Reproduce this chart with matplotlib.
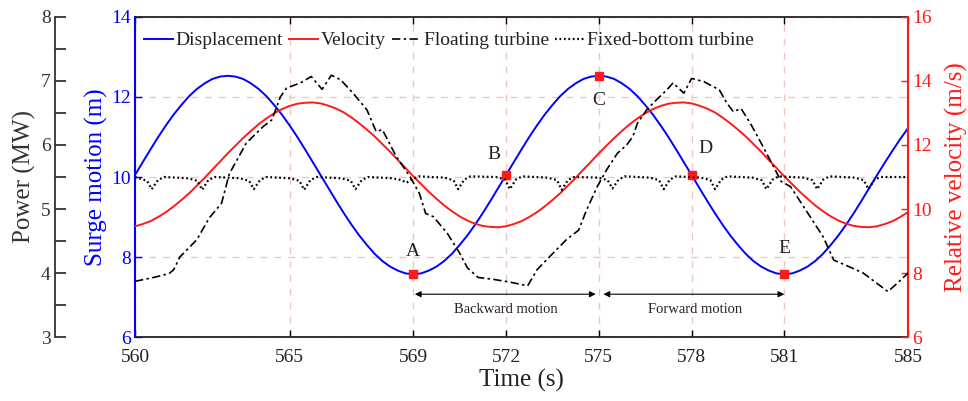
import matplotlib
matplotlib.use("Agg")
import matplotlib.pyplot as plt
from matplotlib.ticker import MultipleLocator, FixedLocator

plt.rcParams['font.family'] = ['Liberation Serif', 'DejaVu Serif']

# surge displacement (m) and relative velocity (m/s), read every 0.25 s
t_q = [560 + 0.25 * i for i in range(101)]
displacement = [10.05, 10.37, 10.69, 11.00, 11.29, 11.56, 11.80, 12.02, 12.20, 12.34,
                12.45, 12.51, 12.53, 12.51, 12.45, 12.34, 12.20, 12.02, 11.80, 11.56,
                11.29, 11.00, 10.69, 10.37, 10.05, 9.73, 9.41, 9.10, 8.81, 8.54,
                8.30, 8.08, 7.90, 7.76, 7.66, 7.59, 7.57, 7.59, 7.66, 7.76,
                7.90, 8.08, 8.30, 8.54, 8.81, 9.10, 9.41, 9.73, 10.05, 10.37,
                10.69, 11.00, 11.29, 11.56, 11.80, 12.02, 12.20, 12.34, 12.45, 12.51,
                12.53, 12.51, 12.45, 12.34, 12.20, 12.02, 11.80, 11.56, 11.29, 11.00,
                10.69, 10.37, 10.05, 9.73, 9.41, 9.10, 8.81, 8.54, 8.30, 8.08,
                7.90, 7.76, 7.66, 7.59, 7.57, 7.59, 7.66, 7.76, 7.90, 8.08,
                8.30, 8.54, 8.81, 9.10, 9.41, 9.73, 10.05, 10.36, 10.66, 10.95, 11.22]
velocity = [9.46, 9.53, 9.62, 9.75, 9.90, 10.08, 10.28, 10.49, 10.73, 10.97,
            11.23, 11.48, 11.74, 11.98, 12.22, 12.44, 12.65, 12.83, 12.99, 13.12,
            13.22, 13.29, 13.32, 13.33, 13.30, 13.23, 13.14, 13.02, 12.86, 12.68,
            12.48, 12.27, 12.03, 11.79, 11.53, 11.28, 11.02, 10.78, 10.54, 10.32,
            10.11, 9.93, 9.77, 9.64, 9.54, 9.47, 9.44, 9.43, 9.46, 9.53,
            9.62, 9.75, 9.90, 10.08, 10.28, 10.49, 10.73, 10.97, 11.23, 11.48,
            11.74, 11.98, 12.22, 12.44, 12.65, 12.83, 12.99, 13.12, 13.22, 13.29,
            13.32, 13.33, 13.30, 13.23, 13.14, 13.02, 12.86, 12.68, 12.48, 12.27,
            12.03, 11.79, 11.53, 11.28, 11.02, 10.78, 10.54, 10.32, 10.11, 9.93,
            9.77, 9.64, 9.54, 9.47, 9.44, 9.43, 9.46, 9.53, 9.62, 9.75, 9.90]

# floating turbine power (MW)
t_float = [560.0, 560.6, 561.1, 561.25, 561.45, 562.0, 562.4, 562.8, 563.05, 563.6,
           564.15, 564.42, 564.55, 564.7, 564.9, 565.35, 565.7, 566.05, 566.35, 566.65,
           567.05, 567.5, 567.8, 568.0, 568.45, 568.9, 569.2, 569.4, 569.65, 570.1,
           570.5, 570.75, 571.1, 571.6, 572.1, 572.7, 573.0, 573.4, 573.95, 574.35,
           574.6, 574.95, 575.25, 575.6, 575.9, 576.1, 576.25, 576.55, 576.85, 577.2,
           577.4, 577.75, 578.0, 578.4, 578.9, 579.15, 579.35, 579.6, 579.9, 580.25,
           580.6, 580.9, 581.2, 581.7, 582.25, 582.6, 582.9, 583.55, 584.35, 584.7, 585.0]
p_float = [3.87, 3.93, 3.99, 4.05, 4.25, 4.52, 4.86, 5.09, 5.55, 6.03,
           6.29, 6.39, 6.55, 6.75, 6.89, 6.97, 7.07, 6.87, 7.09, 7.02,
           6.81, 6.55, 6.21, 6.24, 5.82, 5.50, 5.24, 4.93, 4.88, 4.62,
           4.31, 4.08, 3.93, 3.90, 3.86, 3.80, 4.05, 4.25, 4.52, 4.67,
           4.98, 5.35, 5.61, 5.87, 6.00, 6.13, 6.34, 6.55, 6.70, 6.86,
           6.97, 6.81, 7.04, 6.99, 6.86, 6.65, 6.52, 6.57, 6.34, 6.03,
           5.71, 5.43, 5.35, 4.98, 4.57, 4.20, 4.14, 4.00, 3.71, 3.86, 4.00]

# fixed-bottom turbine power (MW)
t_fixed = [560.0, 560.39, 560.54, 560.74, 560.94,
           561.72, 562.02, 562.17, 562.37, 562.57,
           563.39, 563.69, 563.84, 564.04, 564.24,
           565.02, 565.32, 565.47, 565.67, 565.87,
           566.68, 566.98, 567.13, 567.33, 567.53,
           568.33, 568.63, 568.78, 568.98, 569.18,
           570.0, 570.3, 570.45, 570.65, 570.85,
           571.67, 571.97, 572.12, 572.32, 572.52,
           573.35, 573.65, 573.8, 574.0, 574.2,
           574.99, 575.29, 575.44, 575.64, 575.84,
           576.65, 576.95, 577.1, 577.3, 577.5,
           578.31, 578.61, 578.76, 578.96, 579.16,
           579.97, 580.27, 580.42, 580.62, 580.82,
           581.61, 581.91, 582.06, 582.26, 582.46,
           583.27, 583.57, 583.72, 583.92, 584.12, 585.0]
p_fixed = [5.50, 5.44, 5.31, 5.45, 5.50,
           5.48, 5.44, 5.30, 5.45, 5.50,
           5.48, 5.44, 5.31, 5.45, 5.50,
           5.48, 5.44, 5.30, 5.45, 5.50,
           5.48, 5.44, 5.31, 5.45, 5.50,
           5.48, 5.45, 5.41, 5.47, 5.51,
           5.49, 5.45, 5.31, 5.46, 5.51,
           5.50, 5.46, 5.31, 5.46, 5.51,
           5.49, 5.45, 5.30, 5.45, 5.50,
           5.49, 5.45, 5.32, 5.46, 5.51,
           5.49, 5.45, 5.31, 5.46, 5.51,
           5.49, 5.45, 5.31, 5.46, 5.51,
           5.49, 5.45, 5.31, 5.46, 5.51,
           5.49, 5.45, 5.31, 5.46, 5.51,
           5.49, 5.45, 5.31, 5.46, 5.50, 5.50]

# marked points on the displacement curve
mark_t = [569, 572, 575, 578, 581]
mark_d = [7.57, 10.05, 12.53, 10.05, 7.57]
mark_labels = ['A', 'B', 'C', 'D', 'E']
label_pos = [(569.0, 8.15), (571.6, 10.55), (575.0, 11.92), (578.45, 10.72), (581.0, 8.22)]

x_ticks = [560, 565, 569, 572, 575, 578, 581, 585]

BLUE = '#0000ff'
RED = '#ff1a1a'
GRIDC = '#f2c6bd'
TXT = '#222222'

fig = plt.figure(figsize=(9.68, 4.01), dpi=100)
ax = fig.add_axes([135 / 968, 64 / 401, 773 / 968, 320 / 401])
ax_v = ax.twinx()
ax_p = ax.twinx()

# displacement (left, blue)
l1, = ax.plot(t_q, displacement, color=BLUE, lw=1.4, label='Displacement')
ax.plot(mark_t, mark_d, ls='none', marker='s', ms=5.5, color=RED, zorder=5)
for (x, y), s in zip(label_pos, mark_labels):
    ax.text(x, y, s, ha='center', va='center', fontsize=14, color=TXT)

ax.set_xlim(560, 585)
ax.set_ylim(6, 14)
ax.set_xticks(x_ticks)
ax.set_yticks([6, 8, 10, 12, 14])
ax.set_xlabel('Time (s)', fontsize=18, color=TXT, labelpad=2)
ax.set_ylabel('Surge motion (m)', fontsize=18, color=BLUE, labelpad=2)
ax.tick_params(axis='x', direction='in', length=5, width=1, top=True, labelsize=14,
               labelcolor=TXT, pad=9)
ax.tick_params(axis='y', direction='in', length=5, width=1, colors=BLUE, labelsize=14, pad=3)
ax.spines['left'].set_color(BLUE)
ax.spines['left'].set_linewidth(1.5)
for s in ['top', 'bottom']:
    ax.spines[s].set_color('#222222')
    ax.spines[s].set_linewidth(1.3)
ax.spines['right'].set_visible(False)

ax.xaxis.grid(True, color=GRIDC, ls=(0, (5, 5)), lw=1)
ax.yaxis.grid(True, color=GRIDC, ls=(0, (5, 5)), lw=1)
ax.set_axisbelow(True)

# motion arrows
ax.annotate('', xy=(569.05, 7.07), xytext=(574.9, 7.07),
            arrowprops=dict(arrowstyle='<|-|>', lw=0.8, color='black',
                            mutation_scale=9, shrinkA=0, shrinkB=0))
ax.annotate('', xy=(575.15, 7.07), xytext=(581.0, 7.07),
            arrowprops=dict(arrowstyle='<|-|>', lw=0.8, color='black',
                            mutation_scale=9, shrinkA=0, shrinkB=0))
ax.text(572.0, 6.68, 'Backward motion', ha='center', va='center', fontsize=10.5, color=TXT)
ax.text(578.1, 6.68, 'Forward motion', ha='center', va='center', fontsize=10.5, color=TXT)

# relative velocity (right, red)
l2, = ax_v.plot(t_q, velocity, color=RED, lw=1.4, label='Velocity')
ax_v.set_ylim(6, 16)
ax_v.set_yticks([6, 8, 10, 12, 14, 16])
ax_v.set_ylabel('Relative velocity (m/s)', fontsize=18, color=RED, labelpad=9)
ax_v.tick_params(axis='y', direction='in', length=5, width=1, colors=RED, labelsize=14, pad=3)
ax_v.spines['right'].set_color(RED)
ax_v.spines['right'].set_linewidth(1.5)
for s in ['top', 'bottom', 'left']:
    ax_v.spines[s].set_visible(False)

# power (outer left axis)
l3, = ax_p.plot(t_float, p_float, color='black', lw=1.2, ls=(0, (5, 2, 1.5, 2)),
                label='Floating turbine')
l4, = ax_p.plot(t_fixed, p_fixed, color='black', lw=1.6, ls=(0, (0.8, 1.2)),
                label='Fixed-bottom turbine')
ax_p.set_ylim(3, 8)
ax_p.spines['left'].set_position(('axes', -80 / 773))
ax_p.spines['left'].set_visible(True)
ax_p.spines['left'].set_color('#333333')
ax_p.spines['left'].set_linewidth(1.3)
for s in ['top', 'bottom', 'right']:
    ax_p.spines[s].set_visible(False)
ax_p.yaxis.set_label_position('left')
ax_p.yaxis.tick_left()
ax_p.yaxis.set_major_locator(FixedLocator([3, 4, 5, 6, 7, 8]))
ax_p.yaxis.set_minor_locator(MultipleLocator(0.5))
ax_p.tick_params(axis='y', which='major', direction='in', length=8, width=1.3,
                 colors='#333333', labelsize=14, pad=3)
ax_p.tick_params(axis='y', which='minor', direction='in', length=8, width=1.3,
                 colors='#333333')
ax_p.set_ylabel('Power (MW)', fontsize=18, color='#333333', labelpad=4)

leg = ax_p.legend(handles=[l1, l2, l3, l4], loc='upper left', ncol=4, frameon=False,
                  fontsize=14, handlelength=1.5, handletextpad=0.15, columnspacing=0.3,
                  borderaxespad=0.2, bbox_to_anchor=(-0.004, 0.99))
for txt in leg.get_texts():
    txt.set_color(TXT)

fig.savefig('out.png', dpi=100)
